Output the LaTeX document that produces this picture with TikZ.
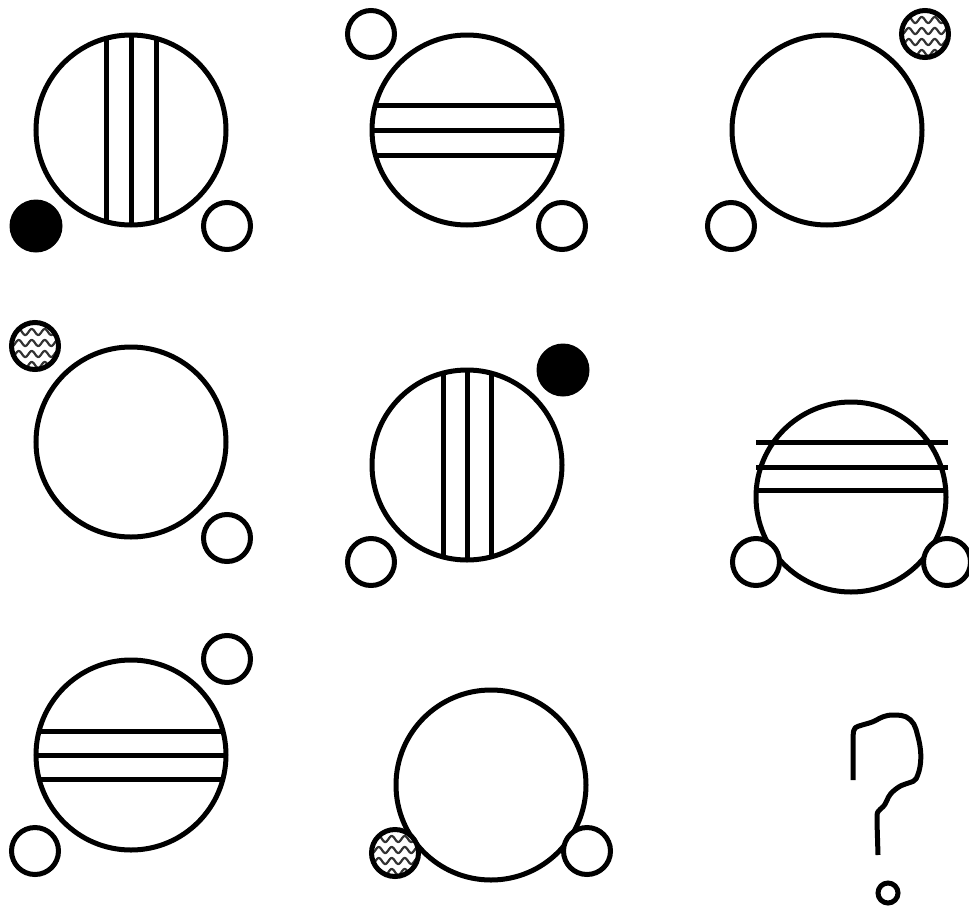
\documentclass[tikz,border=0pt]{standalone}
\begin{document}
\begin{tikzpicture}[x=1pt,y=-1pt,
  stk/.style={line width=5pt},
  bigc/.style={circle,draw,line width=5pt,minimum size=190pt,inner sep=0pt,outer sep=0pt},
  smallc/.style={circle,draw,line width=5pt,minimum size=47pt,inner sep=0pt,outer sep=0pt,fill=white},
  dotc/.style={circle,fill=black,minimum size=53pt,inner sep=0pt,outer sep=0pt},
  wavec/.style={circle,draw,line width=5pt,minimum size=47pt,inner sep=0pt,outer sep=0pt},
  wv/.style={line width=2.2pt,black!80}]
\useasboundingbox (0,0) rectangle (969,908);
\newcommand\wavefill[2]{%
  \begin{scope}[shift={(#1,#2)}]
    \clip (0,0) circle (23pt);
    \foreach \dy in {-14,-3,8,19}{
      \draw[wv,domain=-26:26,samples=60,smooth] plot ({\x},{\dy+3*sin(\x*360/13)});
    }
  \end{scope}}
% panel 1
\node[bigc] (c1) at (131,130) {};
\draw[stk] (106,38.35) -- (106,221.65);
\draw[stk] (131,35) -- (131,225);
\draw[stk] (156,38.35) -- (156,221.65);
\node[dotc] (d1) at (36,226) {};
\node[smallc] (s1) at (227,226) {};
% panel 2
\node[bigc] (c2) at (467,130) {};
\draw[stk] (375.35,105) -- (558.65,105);
\draw[stk] (372,130) -- (562,130);
\draw[stk] (375.35,155) -- (558.65,155);
\node[smallc] (s2a) at (371,34) {};
\node[smallc] (s2b) at (562,226) {};
% panel 3
\node[bigc] (c3) at (827,130) {};
\wavefill{925}{34}
\node[wavec] (w3) at (925,34) {};
\node[smallc] (s3) at (731,226) {};
% panel 4
\node[bigc] (c4) at (131,442) {};
\wavefill{35}{346}
\node[wavec] (w4) at (35,346) {};
\node[smallc] (s4) at (227,538) {};
% panel 5
\node[bigc] (c5) at (467,465) {};
\draw[stk] (443,373.35) -- (443,556.65);
\draw[stk] (467,370) -- (467,560);
\draw[stk] (491,373.35) -- (491,556.65);
\node[dotc] (d5) at (563,370) {};
\node[smallc] (s5) at (371,562) {};
% panel 6
\node[bigc] (c6) at (851,497) {};
\draw[stk] (756,442) -- (948,442);
\draw[stk] (756,467) -- (948,467);
\draw[stk] (758,490) -- (945,490);
\node[smallc] (s6a) at (756,562) {};
\node[smallc] (s6b) at (947,562) {};
% panel 7
\node[bigc] (c7) at (131,755) {};
\draw[stk] (39.35,731) -- (222.65,731);
\draw[stk] (36,755) -- (226,755);
\draw[stk] (39.35,779) -- (222.65,779);
\node[smallc] (s7a) at (227,659) {};
\node[smallc] (s7b) at (35,851) {};
% panel 8
\node[bigc] (c8) at (491,785) {};
\fill[white] (395,853) circle (23pt);
\wavefill{395}{853}
\node[wavec] (w8) at (395,853) {};
\node[smallc] (s8) at (587,851) {};
% panel 9: question mark
\draw[stk,line cap=butt,line join=round,rounded corners=4pt]
  (853,780) -- (853,735) .. controls (854,728) and (856,727) .. (862,725)
  -- (873,722) .. controls (880,718) and (885,715) .. (897,715)
  .. controls (908,716) and (914,722) .. (917,733)
  .. controls (921,748) and (922,760) .. (918,775)
  .. controls (915,781) and (912,782) .. (905,784)
  .. controls (898,787) and (893,791) .. (888,797)
  .. controls (886,803) and (884,806) .. (880,809)
  .. controls (877,813) and (877,816) .. (877,822)
  -- (878,855);
\node[circle,draw,line width=5pt,minimum size=20pt,inner sep=0pt] (q) at (888,893) {};
\end{tikzpicture}
\end{document}
